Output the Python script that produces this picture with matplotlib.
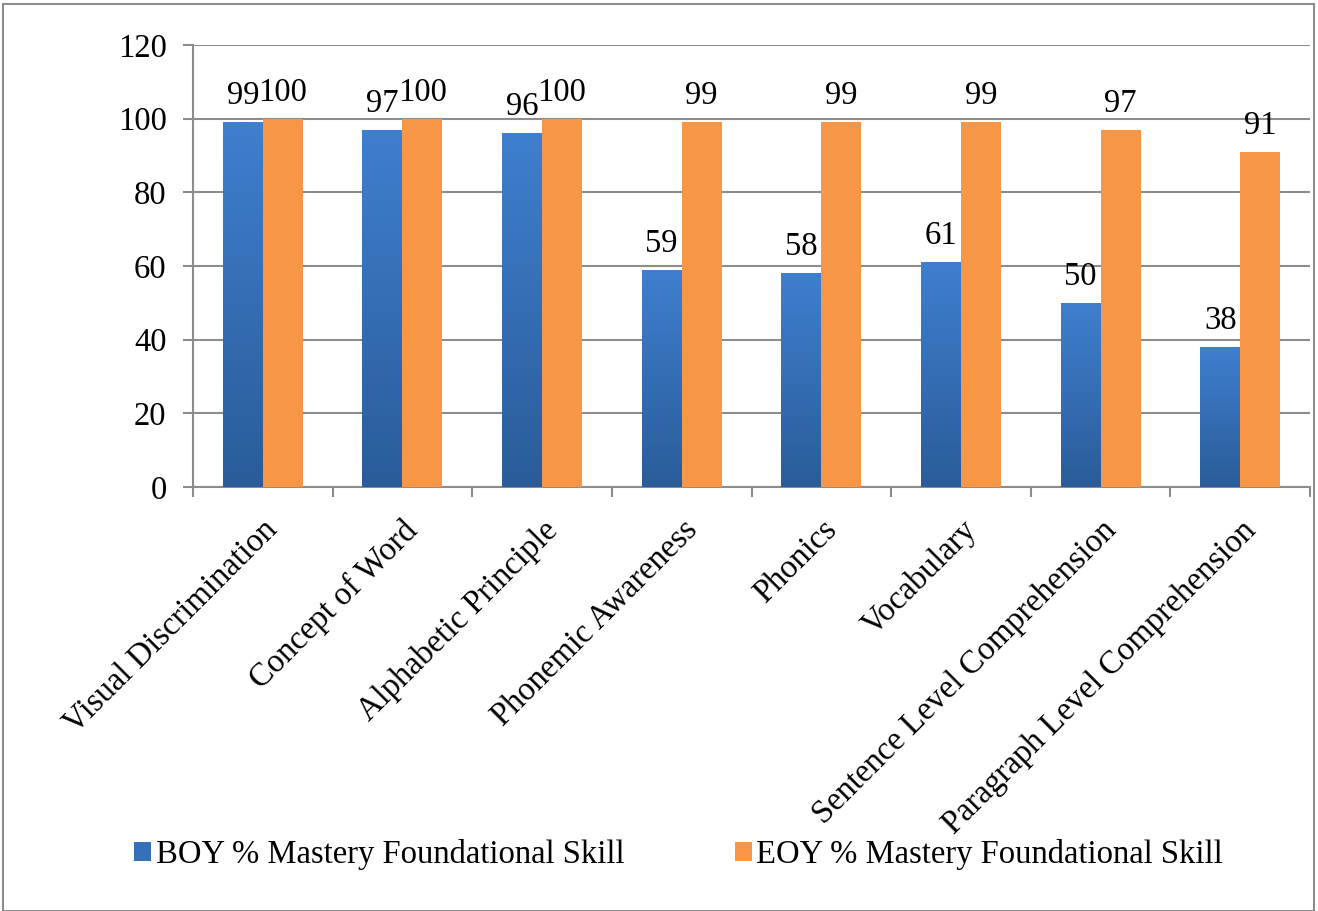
import numpy as np
import matplotlib
matplotlib.use("Agg")
import matplotlib.pyplot as plt
from matplotlib.patches import Rectangle, Patch
from matplotlib.colors import LinearSegmentedColormap

# data
categories = ["Visual Discrimination", "Concept of Word", "Alphabetic Principle",
              "Phonemic Awareness", "Phonics", "Vocabulary",
              "Sentence Level Comprehension", "Paragraph Level Comprehension"]
boy = [99, 97, 96, 59, 58, 61, 50, 38]
eoy = [100, 100, 100, 99, 99, 99, 97, 91]
series_names = ["BOY % Mastery Foundational Skill", "EOY % Mastery Foundational Skill"]

plt.rcParams["font.family"] = ["Liberation Serif", "DejaVu Serif"]
fs = 23.5

fig = plt.figure(figsize=(13.18, 9.11), dpi=100)
ax = fig.add_axes([0.1464, 0.4654, 0.8476, 0.4852])

x = np.arange(len(categories))
w = 0.286
blue_top = "#3f7fcf"
blue_bot = "#2a5c99"
orange = "#f79646"
grey = "#8c8c8c"

blue_bars = ax.bar(x - w / 2, boy, w, color=blue_top, zorder=3)
orange_bars = ax.bar(x + w / 2, eoy, w, color=orange, zorder=3)

# vertical gradient on the blue bars
cmap = LinearSegmentedColormap.from_list("blu", [blue_bot, blue_top])
grad = np.linspace(0, 1, 256).reshape(-1, 1)
for bar in blue_bars:
    bx, by = bar.get_x(), bar.get_y()
    bw, bh = bar.get_width(), bar.get_height()
    im = ax.imshow(grad, cmap=cmap, origin="lower", aspect="auto",
                   extent=[bx, bx + bw, by, by + bh], zorder=4)
    im.set_clip_path(bar)

for bar, v in zip(blue_bars, boy):
    ax.annotate(str(v), (bar.get_x() + bar.get_width() / 2, v),
                xytext=(0, 8), textcoords="offset points",
                ha="center", va="bottom", fontsize=fs, zorder=5)
for bar, v in zip(orange_bars, eoy):
    ax.annotate(str(v), (bar.get_x() + bar.get_width() / 2, v),
                xytext=(0, 8), textcoords="offset points",
                ha="center", va="bottom", fontsize=fs, zorder=5)

ax.set_xlim(-0.5, len(categories) - 0.5)
ax.set_ylim(0, 120)
ax.set_yticks(range(0, 121, 20))
ax.tick_params(axis="y", labelsize=fs, length=7, color=grey, width=1.5, pad=12)

ax.set_xticks(x)
ax.set_xticklabels(categories, rotation=45, ha="right", rotation_mode="anchor", fontsize=fs)
ax.tick_params(axis="x", which="major", length=0, pad=20)
ax.set_xticks(np.arange(-0.5, len(categories), 1), minor=True)
ax.tick_params(axis="x", which="minor", length=7, color=grey, width=1.5)

ax.grid(axis="y", color=grey, linewidth=1.5, zorder=0)
ax.set_axisbelow(True)
for s in ["top", "right"]:
    ax.spines[s].set_visible(False)
for s in ["left", "bottom"]:
    ax.spines[s].set_color(grey)
    ax.spines[s].set_linewidth(1.5)

handles = [Patch(facecolor="#3670b8"), Patch(facecolor=orange)]
fig.legend(handles, series_names, loc="center", bbox_to_anchor=(0.515, 0.062), ncol=2,
           frameon=False, fontsize=fs, handlelength=0.5, handleheight=0.5,
           handletextpad=0.15, columnspacing=3.4)

fig.patches.append(Rectangle((3 / 1318, 0), 1311 / 1318, 907 / 911, transform=fig.transFigure,
                             fill=False, edgecolor=grey, linewidth=1.5))

fig.savefig("out.png", dpi=100)
